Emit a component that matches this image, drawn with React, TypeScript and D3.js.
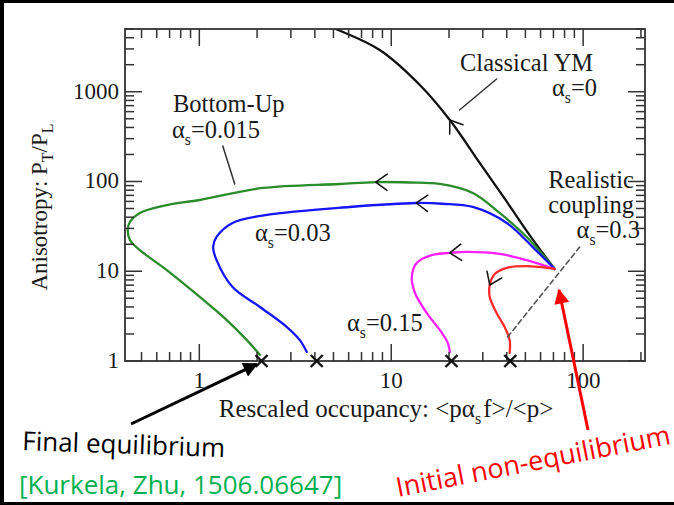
import React from "react";
import * as d3 from "d3";

// ---------- data ----------
const classicalYM: [number, number][] = [
  [71, 10.6], [52.6, 25.3], [39.5, 62], [28.9, 161], [20.2, 484], [14.1, 1189], [8.71, 2918], [5.14, 5000], [3.34, 7160],
];
const bottomUp: [number, number][] = [
  [71, 10.6], [50.8, 24.1], [36.7, 44.6], [26.6, 74.5], [17.9, 93.8], [12.5, 97.5], [8.3, 98.5], [5.39, 93.8],
  [2.14, 84.7], [1.006, 62.2], [0.677, 54.7], [0.49, 44.6], [0.435, 35.4], [0.424, 28.8], [0.435, 22.3],
  [0.49, 17.2], [0.677, 10.3], [1.006, 5.17], [1.39, 2.86], [1.77, 1.71], [2.07, 1.17],
];
const alpha003: [number, number][] = [
  [71, 10.6], [54.6, 18.6], [40.0, 34.5], [26.6, 52.0], [18.5, 56.5], [13.5, 57.6], [6.08, 52.0], [2.25, 42.4],
  [1.49, 34.5], [1.23, 24.1], [1.18, 18.6], [1.23, 13.3], [1.49, 6.67], [2.07, 4.0], [2.86, 2.39],
  [3.34, 1.71], [3.63, 1.26],
];
const alpha015: [number, number][] = [
  [71, 10.6], [50.8, 13.3], [36.7, 15.6], [24.7, 16.4], [20.2, 16.0], [16.4, 15.2], [13.6, 12.4],
  [12.8, 8.63], [13.3, 5.72], [15.3, 3.43], [17.9, 2.22], [19.7, 1.59], [20.2, 1.26],
];
const alpha03: [number, number][] = [
  [71, 10.6], [50.8, 11.4], [40, 10.9], [34.6, 9.31], [32.6, 7.03], [32.6, 5.17], [35.4, 3.43],
  [39.0, 2.39], [41.4, 1.71], [41.4, 1.23],
];
const seriesNames = ["classical", "bottomUp", "alpha003", "alpha015", "alpha03"];
const seriesData = [classicalYM, bottomUp, alpha003, alpha015, alpha03];
const seriesColors = ["#111111", "#2a8c2a", "#1515ff", "#ff20ff", "#ff2a2a"];
// index of the point where the direction arrow sits on each curve
const arrowIndex = [4, 6, 5, 4, 4];

const finalPoints: number[] = [2.11, 4.09, 20.6, 41.7];
const dashedLine: [number, number][] = [[40.4, 1.85], [95.9, 18.6]];
const ymPointer: [number, number][] = [[35.4, 1387], [22.7, 626]];
const buPointer: [number, number][] = [[1.325, 249], [1.53, 93.8]];

const xMajor = [1, 10, 100];
const xTickLabels = ["1", "10", "100"];
const yMajor = [1, 10, 100, 1000];
const yTickLabels = ["1", "10", "100", "1000"];

// ---------- layout ----------
const W = 674, H = 505;
const L = 125, R = 645, T = 29, B = 361;
const X_DOMAIN: [number, number] = [0.41, 210];
const Y_DOMAIN: [number, number] = [1, 5000];

const serif = "'Liberation Serif', 'Times New Roman', serif";
const sans = "'Open Sans', 'Noto Sans', sans-serif";

function Alpha({ x, y, rest, anchor = "start", size = 24.5 }: any) {
  return (
    <text x={x} y={y} fontFamily={serif} fontSize={size} fill="#1a1a1a" textAnchor={anchor}>
      α<tspan dy={7} fontSize={size * 0.64}>s</tspan>
      <tspan dy={-7}>{rest}</tspan>
    </text>
  );
}

export default function App() {
  const x = d3.scaleLog().domain(X_DOMAIN).range([L, R]);
  const y = d3.scaleLog().domain(Y_DOMAIN).range([B, T]);
  const line = d3
    .line<[number, number]>()
    .x((d) => x(d[0]))
    .y((d) => y(d[1]))
    .curve(d3.curveCatmullRom.alpha(0.5));

  const xMinor: number[] = [];
  for (let dec = 0.1; dec <= 100; dec *= 10) {
    for (let k = 2; k <= 9; k++) {
      const v = +(k * dec).toPrecision(3);
      if (v >= X_DOMAIN[0] && v <= X_DOMAIN[1]) xMinor.push(v);
    }
  }
  const yMinor: number[] = [];
  for (let dec = 1; dec <= 1000; dec *= 10) {
    for (let k = 2; k <= 9; k++) {
      const v = k * dec;
      if (v <= Y_DOMAIN[1]) yMinor.push(v);
    }
  }
  const MAJ = 17, MIN = 9;
  const tickStroke = "#333";

  const arrows = seriesData.map((pts, i) => {
    const k = arrowIndex[i];
    const p1 = pts[k - 1], p2 = pts[k];
    const tx = x(p2[0]), ty = y(p2[1]);
    const ang = Math.atan2(ty - y(p1[1]), tx - x(p1[0]));
    const back = ang + Math.PI;
    const a = 0.62, len = 14;
    const ax = tx + len * Math.cos(back - a), ay = ty + len * Math.sin(back - a);
    const bx = tx + len * Math.cos(back + a), by = ty + len * Math.sin(back + a);
    return { d: `M${ax},${ay}L${tx},${ty}L${bx},${by}`, key: seriesNames[i] };
  });

  return (
    <svg width={W} height={H} style={{ position: "absolute", left: 0, top: 0, background: "#fff" }}>
      <defs>
        <clipPath id="plot">
          <rect x={L} y={T} width={R - L} height={B - T} />
        </clipPath>
        <marker id="headBlack" viewBox="0 0 10 10" refX="9" refY="5" markerWidth="5.5" markerHeight="5" orient="auto" markerUnits="strokeWidth">
          <path d="M0,0L10,5L0,10z" fill="#000" />
        </marker>
        <marker id="headRed" viewBox="0 0 10 10" refX="9" refY="5" markerWidth="5.5" markerHeight="5" orient="auto" markerUnits="strokeWidth">
          <path d="M0,0L10,5L0,10z" fill="#ff0000" />
        </marker>
      </defs>
      <rect x={0} y={0} width={W} height={H} fill="#fff" />

      {/* curves */}
      <g clipPath="url(#plot)" fill="none" strokeLinejoin="round" strokeLinecap="round">
        {seriesData.map((pts, i) => (
          <path key={seriesNames[i]} d={line(pts) || ""} stroke={seriesColors[i]} strokeWidth={2.3} />
        ))}
        {arrows.map((a) => (
          <path key={a.key} d={a.d} stroke="#111" strokeWidth={1.5} />
        ))}
        <line
          x1={x(dashedLine[0][0])} y1={y(dashedLine[0][1])} x2={x(dashedLine[1][0])} y2={y(dashedLine[1][1])}
          stroke="#555" strokeWidth={1.6} strokeDasharray="5,3.5"
        />
        <line x1={x(ymPointer[0][0])} y1={y(ymPointer[0][1])} x2={x(ymPointer[1][0])} y2={y(ymPointer[1][1])} stroke="#333" strokeWidth={1.5} />
        <line x1={x(buPointer[0][0])} y1={y(buPointer[0][1])} x2={x(buPointer[1][0])} y2={y(buPointer[1][1])} stroke="#333" strokeWidth={1.5} />
      </g>

      {/* ticks */}
      <g stroke={tickStroke} strokeWidth={1.5}>
        {xMajor.map((v) => (
          <g key={"xM" + v}>
            <line x1={x(v)} x2={x(v)} y1={B} y2={B - MAJ} />
            <line x1={x(v)} x2={x(v)} y1={T} y2={T + MAJ} />
          </g>
        ))}
        {xMinor.map((v) => (
          <g key={"xm" + v}>
            <line x1={x(v)} x2={x(v)} y1={B} y2={B - MIN} />
            <line x1={x(v)} x2={x(v)} y1={T} y2={T + MIN} />
          </g>
        ))}
        {yMajor.map((v) => (
          <g key={"yM" + v}>
            <line x1={L} x2={L + MAJ} y1={y(v)} y2={y(v)} />
            <line x1={R} x2={R - MAJ} y1={y(v)} y2={y(v)} />
          </g>
        ))}
        {yMinor.map((v) => (
          <g key={"ym" + v}>
            <line x1={L} x2={L + MIN} y1={y(v)} y2={y(v)} />
            <line x1={R} x2={R - MIN} y1={y(v)} y2={y(v)} />
          </g>
        ))}
      </g>
      <rect x={L} y={T} width={R - L} height={B - T} fill="none" stroke="#333" strokeWidth={1.8} />

      {/* final-state markers */}
      <g stroke="#111" strokeWidth={2.4}>
        {finalPoints.map((v) => (
          <g key={"f" + v}>
            <line x1={x(v) - 6} x2={x(v) + 6} y1={y(1) - 6} y2={y(1) + 6} />
            <line x1={x(v) - 6} x2={x(v) + 6} y1={y(1) + 6} y2={y(1) - 6} />
          </g>
        ))}
      </g>

      {/* tick labels */}
      <g fontFamily={serif} fontSize={23} fill="#1a1a1a">
        {xMajor.map((v, i) => (
          <text key={"xl" + v} x={x(v)} y={B + 27} textAnchor="middle">{xTickLabels[i]}</text>
        ))}
        {yMajor.map((v, i) => (
          <text key={"yl" + v} x={L - 6} y={y(v) + 7} textAnchor="end">{yTickLabels[i]}</text>
        ))}
      </g>

      {/* axis titles */}
      <text x={386} y={B + 56} textAnchor="middle" fontFamily={serif} fontSize={25} fill="#1a1a1a">
        Rescaled occupancy: &lt;pα<tspan dy={7} fontSize={16}>s</tspan>
        <tspan dy={-7} dx={2}>f&gt;/&lt;p&gt;</tspan>
      </text>
      <text transform={`translate(47,${(T + B) / 2 + 12}) rotate(-90)`} textAnchor="middle" fontFamily={serif} fontSize={23} fill="#1a1a1a">
        Anisotropy: P<tspan dy={6} fontSize={16}>T</tspan>
        <tspan dy={-6}>/P</tspan>
        <tspan dy={6} fontSize={16}>L</tspan>
      </text>

      {/* in-plot annotations */}
      <g fontFamily={serif} fontSize={24.5} fill="#1a1a1a">
        <text x={460} y={71}>Classical YM</text>
        <text x={173} y={112}>Bottom-Up</text>
        <text x={634} y={188} textAnchor="end">Realistic</text>
        <text x={634} y={213} textAnchor="end">coupling</text>
      </g>
      <Alpha x={597} y={96} rest="=0" anchor="end" />
      <Alpha x={172} y={138} rest="=0.015" />
      <Alpha x={255} y={241} rest="=0.03" />
      <Alpha x={347} y={331} rest="=0.15" />
      <Alpha x={640} y={238} rest="=0.3" anchor="end" />

      {/* outside annotations */}
      <line x1={131} y1={424} x2={257} y2={364} stroke="#000" strokeWidth={3} markerEnd="url(#headBlack)" />
      <line x1={588} y1={430} x2={559} y2={290} stroke="#ff0000" strokeWidth={3} markerEnd="url(#headRed)" />
      <text x={22} y={450} transform="rotate(2 22 450)" fontFamily={sans} fontSize={26} fill="#000">Final equilibrium</text>
      <text x={19} y={494} fontFamily={sans} fontSize={26} fill="#00b050">[Kurkela, Zhu, 1506.06647]</text>
      <text x={398} y={497} transform="rotate(-11 398 497)" fontFamily={sans} fontSize={27} fill="#ff0000">Initial non-equilibrium</text>

      {/* black frame of the slide */}
      <rect x={0} y={0} width={W} height={3} fill="#000" />
      <rect x={0} y={0} width={4} height={H} fill="#000" />
      <rect x={0} y={H - 3} width={W} height={3} fill="#000" />
    </svg>
  );
}
